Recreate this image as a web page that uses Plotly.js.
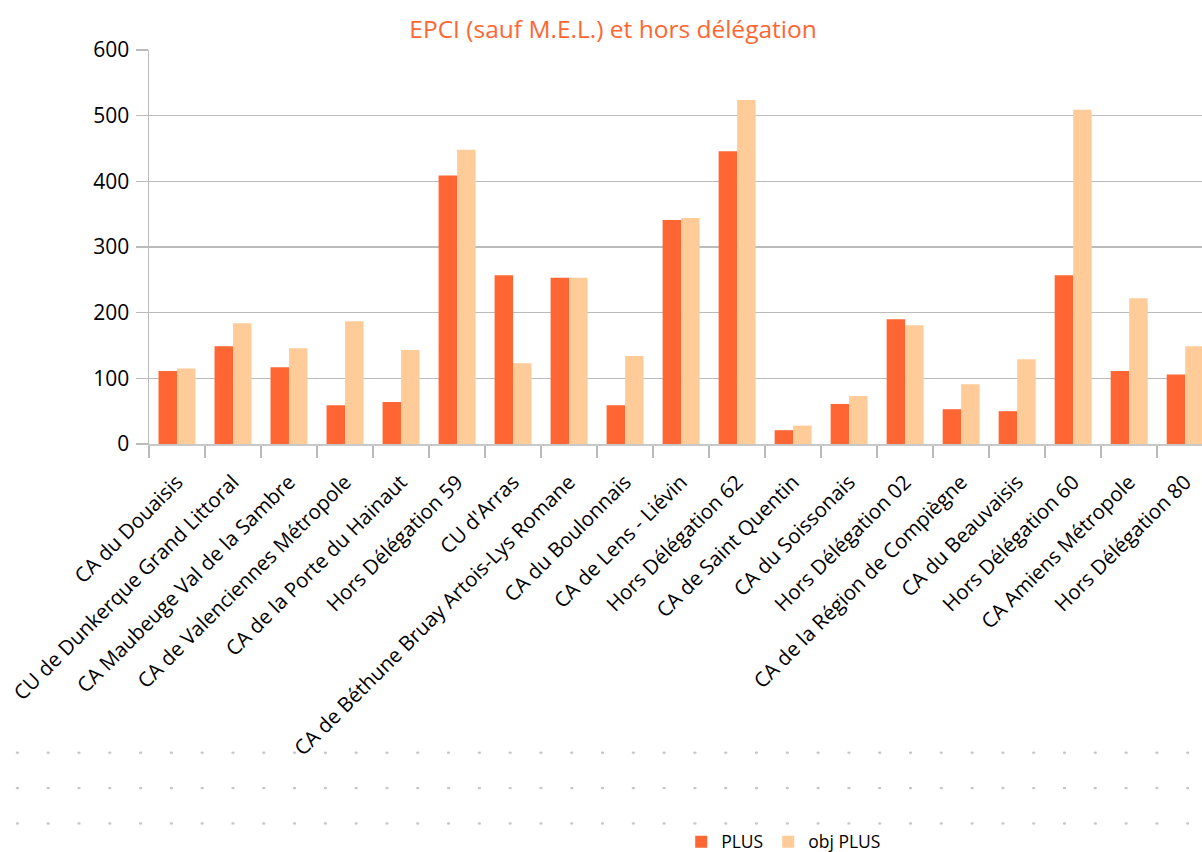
<!DOCTYPE html>
<html>
<head>
<meta charset="utf-8">
<script src="https://cdn.plot.ly/plotly-3.0.1.min.js"></script>
<style>
  html, body { margin: 0; padding: 0; background: #ffffff; overflow: hidden; }
  #wrap { position: relative; width: 1202px; height: 852px; }
  #dots {
    position: absolute; left: 0; top: 735px; width: 1202px; height: 106px;
    background-image: radial-gradient(circle, #c4c4c4 1.1px, rgba(255,255,255,0) 1.6px);
    background-size: 30.8px 35.4px;
    background-position: 2px 0px;
  }
  #chart { position: absolute; left: 0; top: 0; width: 1202px; height: 852px; }
</style>
</head>
<body>
<div id="wrap">
  <div id="dots"></div>
  <div id="chart"></div>
</div>
<script>
const categories = [
  "CA du Douaisis",
  "CU de Dunkerque Grand Littoral",
  "CA Maubeuge Val de la Sambre",
  "CA de Valenciennes Métropole",
  "CA de la Porte du Hainaut",
  "Hors Délégation 59",
  "CU d'Arras",
  "CA de Béthune Bruay Artois-Lys Romane",
  "CA du Boulonnais",
  "CA de Lens - Liévin",
  "Hors Délégation 62",
  "CA de Saint Quentin",
  "CA du Soissonais",
  "Hors Délégation 02",
  "CA de la Région de Compiègne",
  "CA du Beauvaisis",
  "Hors Délégation 60",
  "CA Amiens Métropole",
  "Hors Délégation 80"
];
const plusValues    = [111, 149, 117, 59, 64, 409, 257, 253, 59, 341, 446, 21, 61, 190, 53, 50, 257, 111, 106];
const objPlusValues = [115, 184, 146, 187, 143, 448, 123, 253, 134, 344, 524, 28, 73, 181, 91, 129, 509, 222, 149];
const seriesNames = ["PLUS", "obj PLUS"];
const yTickValues = [0, 100, 200, 300, 400, 500, 600];

const FONT = "'Open Sans', 'Noto Sans', 'DejaVu Sans', sans-serif";

const traces = [
  {
    type: "bar", name: seriesNames[0], x: categories, y: plusValues,
    marker: { color: "#FF6633", line: { width: 0 } }, hoverinfo: "x+y"
  },
  {
    type: "bar", name: seriesNames[1], x: categories, y: objPlusValues,
    marker: { color: "#FFCC99", line: { width: 0 } }, hoverinfo: "x+y"
  }
];

const layout = {
  width: 1202, height: 852,
  margin: { l: 149, r: 0, t: 50, b: 408, pad: 0, autoexpand: false },
  paper_bgcolor: "rgba(0,0,0,0)",
  plot_bgcolor: "rgba(0,0,0,0)",
  font: { family: FONT, color: "#000000", size: 18 },
  title: {
    text: "EPCI (sauf M.E.L.) et hors délégation",
    font: { family: FONT, size: 24.5, color: "#FF6633" },
    x: 0.51, xanchor: "center", y: 0.966, yanchor: "middle"
  },
  barmode: "group",
  bargap: 0.34,
  bargroupgap: 0,
  showlegend: true,
  legend: {
    orientation: "h",
    xref: "container", yref: "container",
    x: 0.652, xanchor: "center",
    y: 0.012, yanchor: "middle",
    font: { family: FONT, size: 17.5, color: "#000000" },
    bgcolor: "rgba(0,0,0,0)",
    itemwidth: 30,
    traceorder: "normal"
  },
  xaxis: {
    type: "category",
    range: [-0.5, 18.30],
    tickangle: -45,
    tickson: "boundaries",
    ticks: "outside",
    ticklen: 12,
    tickwidth: 1.5,
    tickcolor: "#BBBBBB",
    ticklabelstandoff: 16,
    showline: true,
    linecolor: "#C8C8C8",
    linewidth: 2,
    showgrid: false,
    automargin: false,
    tickfont: { family: FONT, size: 20.5, color: "#000000" },
    fixedrange: true
  },
  yaxis: {
    range: [0, 600],
    tickvals: yTickValues,
    ticktext: yTickValues.map(String),
    ticks: "outside",
    ticklen: 12,
    tickwidth: 1.5,
    tickcolor: "#BBBBBB",
    showline: true,
    linecolor: "#BBBBBB",
    linewidth: 1.5,
    showgrid: true,
    gridcolor: "#BBBBBB",
    gridwidth: 1.5,
    zeroline: false,
    automargin: false,
    ticklabelstandoff: 2,
    tickfont: { family: FONT, size: 21, color: "#000000" },
    fixedrange: true
  }
};

Plotly.newPlot("chart", traces, layout, { displayModeBar: false, staticPlot: true });
</script>
</body>
</html>
